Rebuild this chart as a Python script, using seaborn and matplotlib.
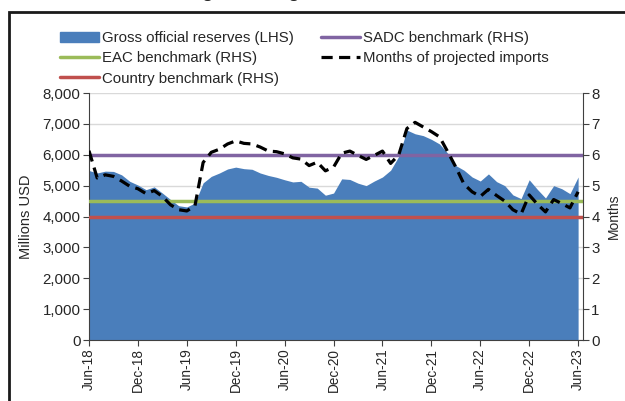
import numpy as np
import pandas as pd
import seaborn as sns
from matplotlib import pyplot as plt
from matplotlib.lines import Line2D
from matplotlib.patches import Patch, Rectangle

# monthly data, Jun-18 .. Jun-23
months = pd.date_range("2018-06-01", "2023-06-01", freq="MS")
reserves = [5490, 5410, 5470, 5460, 5350, 5140, 5020, 4870, 4960, 4760,
            4550, 4350, 4310, 4440, 5090, 5300, 5410, 5540, 5600, 5550,
            5530, 5410, 5330, 5270, 5190, 5120, 5140, 4950, 4920, 4690,
            4760, 5220, 5200, 5080, 5000, 5150, 5280, 5500, 5950, 6800,
            6680, 6620, 6500, 6350, 6050, 5650, 5500, 5280, 5150, 5380,
            5130, 5000, 4700, 4580, 5190, 4880, 4600, 5000, 4900, 4740,
            5280]
import_months = [6.13, 5.25, 5.35, 5.30, 5.15, 4.98, 4.90, 4.74, 4.84, 4.65,
                 4.38, 4.22, 4.18, 4.35, 5.75, 6.08, 6.18, 6.35, 6.45, 6.37,
                 6.35, 6.25, 6.12, 6.10, 6.03, 5.90, 5.86, 5.65, 5.76, 5.48,
                 5.60, 6.05, 6.12, 5.98, 5.85, 5.98, 6.12, 5.72, 6.00, 6.85,
                 7.05, 6.90, 6.75, 6.58, 6.10, 5.60, 5.05, 4.80, 4.65, 4.88,
                 4.68, 4.50, 4.22, 4.08, 4.70, 4.40, 4.15, 4.55, 4.42, 4.28,
                 4.80]
sadc_benchmark = 6
eac_benchmark = 4.5
country_benchmark = 4

df = pd.DataFrame({"idx": np.arange(len(months)), "reserves": reserves,
                   "months": import_months})
tick_idx = list(range(0, len(months), 6))
tick_labels = [months[i].strftime("%b-%y") for i in tick_idx]

blue = "#4a7ebb"
purple = "#8064a2"
green = "#9bbb59"
red = "#c0504d"
dash = (0, (3.5, 2))

sns.set_style("white")
plt.rcParams["font.family"] = ["Liberation Sans", "DejaVu Sans"]
plt.rcParams["font.size"] = 10.8

fig = plt.figure(figsize=(6.25, 4.01), dpi=100)
ax = fig.add_axes([0.1424, 0.1521, 0.7904, 0.6159])

ax.fill_between(df["idx"], df["reserves"], color=blue, lw=0, zorder=2)
ax.set_xlim(0, 60.6)
ax.set_ylim(0, 8000)
ax.set_yticks(range(0, 8001, 1000))
ax.set_yticklabels([f"{v:,}" for v in range(0, 8001, 1000)], fontsize=10.8)
ax.yaxis.grid(True, color="#d9d9d9", lw=1)
ax.set_axisbelow(True)
ax.set_xticks(tick_idx)
ax.set_xticklabels(tick_labels, rotation=90, fontsize=9.8)
ax.set_ylabel("Millions USD", fontsize=10.5, labelpad=7)
ax.set_xlabel("")
for s in ["top", "right"]:
    ax.spines[s].set_visible(False)
for s in ["left", "bottom"]:
    ax.spines[s].set_color("#404040")
ax.tick_params(axis="both", direction="out", length=4, width=0.8,
               color="#404040", left=True, bottom=True, pad=2)

ax2 = ax.twinx()
ax2.set_ylim(0, 8)
ax2.axhline(sadc_benchmark, color=purple, lw=2.5)
ax2.axhline(eac_benchmark, color=green, lw=2.5)
ax2.axhline(country_benchmark, color=red, lw=2.5)
sns.lineplot(data=df, x="idx", y="months", ax=ax2, color="black", lw=2.3,
             linestyle=dash)
ax2.set_xlim(0, 60.6)
ax2.set_yticks(range(0, 9))
ax2.tick_params(axis="y", labelsize=10.8)
ax2.set_ylabel("Months", fontsize=10, labelpad=5)
ax2.set_xlabel("")
for s in ["top", "left", "bottom"]:
    ax2.spines[s].set_visible(False)
ax2.spines["right"].set_color("#404040")
ax2.tick_params(axis="y", direction="out", length=4, width=0.8,
                color="#404040", right=True, pad=2)

handles = [Patch(color=blue),
           Line2D([], [], color=green, lw=2.5),
           Line2D([], [], color=red, lw=2.5),
           Line2D([], [], color=purple, lw=2.5),
           Line2D([], [], color="black", lw=2.3, linestyle=dash)]
labels = ["Gross official reserves (LHS)", "EAC benchmark (RHS)",
          "Country benchmark (RHS)", "SADC benchmark (RHS)",
          "Months of projected imports"]
fig.legend(handles, labels, ncol=2, frameon=False, loc="upper left",
           bbox_to_anchor=(0.096, 0.922), borderaxespad=0, borderpad=0,
           fontsize=10.8, handlelength=2.6, handletextpad=0.2,
           columnspacing=1.8, labelspacing=0.41)

fig.text(0.02, 1.004, "Chart 4: Trends in foreign exchange reserves",
         fontsize=12.5, fontweight="bold", va="baseline")
fig.patches.append(Rectangle((0.0136, -0.5), 2, 0.9713 + 0.5, fill=False,
                             lw=2, edgecolor="#1a1a1a",
                             transform=fig.transFigure, figure=fig))

fig.savefig("out.png", dpi=100)
